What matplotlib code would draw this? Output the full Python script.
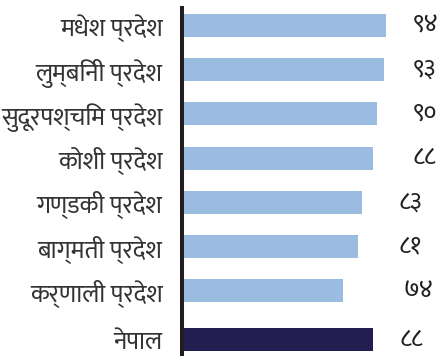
import matplotlib
matplotlib.use('Agg')
import matplotlib.pyplot as plt

# Data
provinces = ['मधेश प्रदेश', 'लुम्बिनी प्रदेश', 'सुदूरपश्चिम प्रदेश', 'कोशी प्रदेश',
             'गण्डकी प्रदेश', 'बाग्मती प्रदेश', 'कर्णाली प्रदेश', 'नेपाल']
values = [94, 93, 90, 88, 83, 81, 74, 88]
value_labels = ['९४', '९३', '९०', '८८', '८३', '८१', '७४', '८८']

plt.rcParams['font.family'] = ['Mukta', 'Noto Sans Devanagari', 'DejaVu Sans']

LIGHT = '#9bbce1'
DARK = '#221e50'

W, H = 441, 356
fig = plt.figure(figsize=(W / 100, H / 100), dpi=100)
ax = fig.add_axes([182 / W, 0, 1 - 182 / W, 1 - 8 / H])

ypos = [0, 1, 2, 3, 4, 5, 6, 7.1]
colors = [LIGHT] * 7 + [DARK]
ax.barh(ypos, values, height=0.52, color=colors, zorder=1)

ax.set_xlim(0, 119.3)
ax.set_ylim(7.47, -0.39)

# value labels sit in two columns at the right
label_x = [106.4, 106.4, 106.4, 106.4, 99.5, 99.5, 101.8, 100]
for y, lx, lab in zip(ypos, label_x, value_labels):
    ax.text(lx, y, lab, ha='left', va='center', fontsize=18, color='#231f20')

ax.set_yticks(ypos)
ax.set_yticklabels(provinces, fontsize=18, color='#333333')
ax.tick_params(axis='y', length=0, pad=14)
ax.set_xticks([])

for s in ['top', 'right', 'bottom']:
    ax.spines[s].set_visible(False)
ax.spines['left'].set_linewidth(2.9)
ax.spines['left'].set_color('#231f20')
ax.spines['left'].set_zorder(3)

fig.savefig('out.png', dpi=100)
